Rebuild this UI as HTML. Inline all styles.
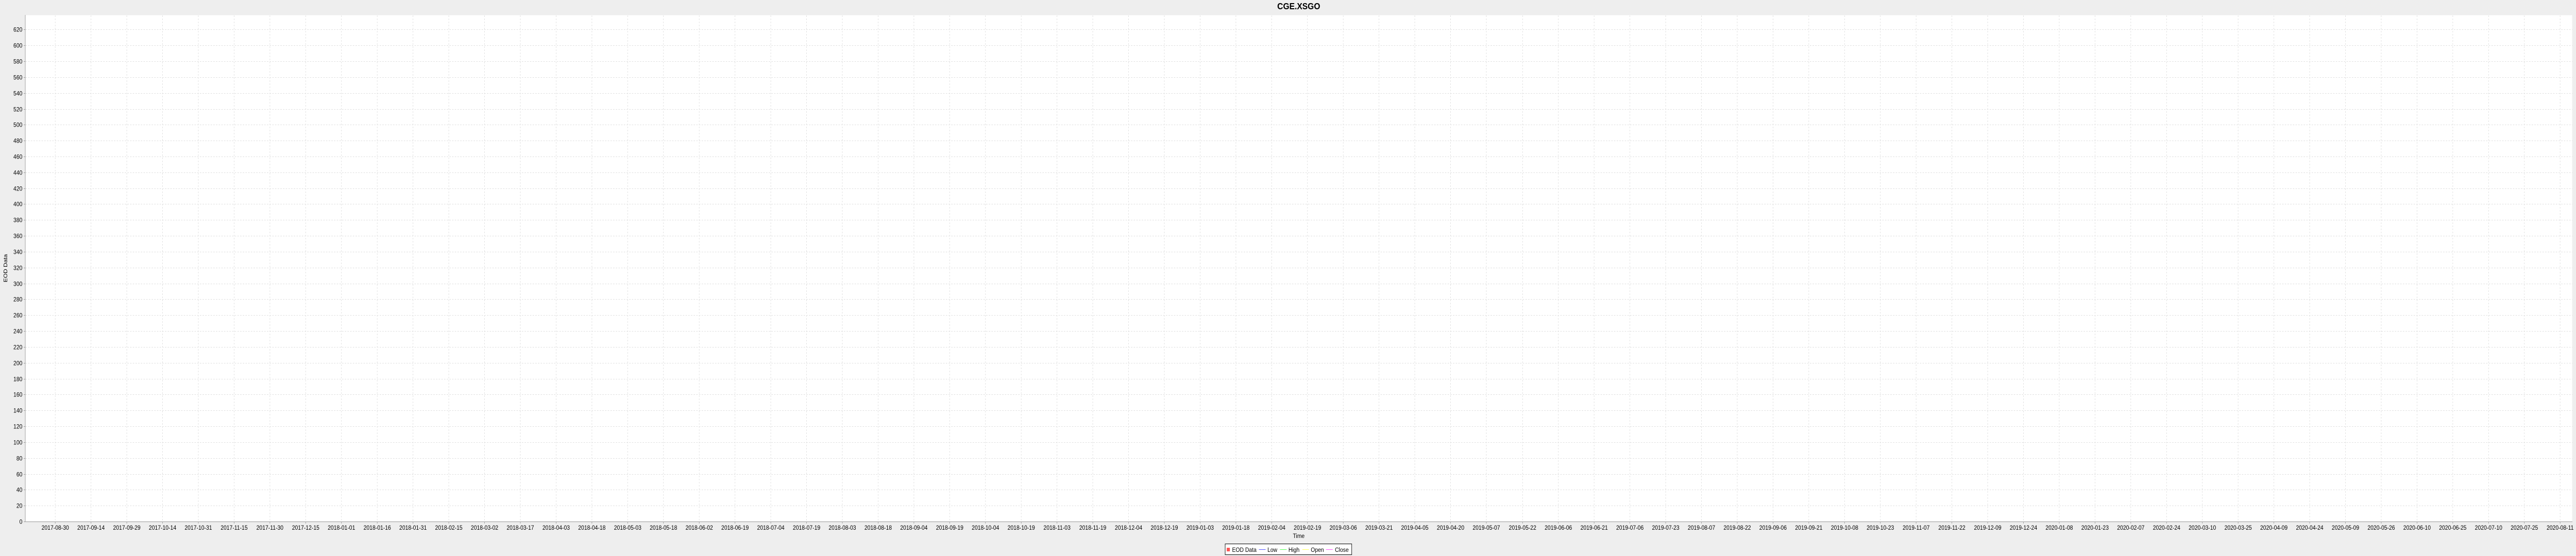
<!DOCTYPE html>
<html><head><meta charset="utf-8"><style>
html,body{margin:0;padding:0;background:#eeeeee;width:100%;height:100%;overflow:hidden;}
svg{display:block;font-family:"Liberation Sans",sans-serif;width:100vw;height:100vh;position:fixed;left:0;top:0;}
</style></head><body>
<svg id="chart" viewBox="0 0 5760 1080" preserveAspectRatio="none" xmlns="http://www.w3.org/2000/svg">
<rect x="0" y="0" width="5760" height="1080" fill="#eeeeee"/>
<text x="2904" y="18" text-anchor="middle" font-size="18" font-weight="bold" fill="#000">CGE.XSGO</text>
<rect x="56.5" y="29.5" width="5695" height="983.5" fill="#fff"/>
<g id="grid"></g>
<g id="yticks"></g>
<g id="xticks"></g>
<g id="series"></g>
<line x1="56.5" y1="29" x2="56.5" y2="1013.5" stroke="#999" stroke-width="1"/>
<line x1="56" y1="1013.5" x2="5752" y2="1013.5" stroke="#999" stroke-width="1"/>
<text transform="translate(16,521) rotate(-90)" text-anchor="middle" font-size="12" fill="#000">EOD Data</text>
<text x="2904" y="1045" text-anchor="middle" font-size="12" fill="#000">Time</text>
<g>
<rect x="2739.5" y="1056.5" width="283" height="21" fill="#fff" stroke="#000" stroke-width="1"/>
<rect x="2743" y="1064" width="7" height="7" fill="#ff5555"/>
<text x="2755" y="1072" font-size="12">EOD Data</text>
<line x1="2815" y1="1067.5" x2="2830" y2="1067.5" stroke="#5555ff"/>
<text x="2834" y="1072" font-size="12">Low</text>
<line x1="2862" y1="1067.5" x2="2877" y2="1067.5" stroke="#55ff55"/>
<text x="2881" y="1072" font-size="12">High</text>
<line x1="2912" y1="1067.5" x2="2927" y2="1067.5" stroke="#ffff55"/>
<text x="2931" y="1072" font-size="12">Open</text>
<line x1="2965" y1="1067.5" x2="2980" y2="1067.5" stroke="#ff55ff"/>
<text x="2985" y="1072" font-size="12">Close</text>
</g>
</svg>
<script>
var xTickLabels = ["2017-08-30","2017-09-14","2017-09-29","2017-10-14","2017-10-31","2017-11-15","2017-11-30","2017-12-15",
"2018-01-01","2018-01-16","2018-01-31","2018-02-15","2018-03-02","2018-03-17","2018-04-03","2018-04-18","2018-05-03",
"2018-05-18","2018-06-02","2018-06-19","2018-07-04","2018-07-19","2018-08-03","2018-08-18","2018-09-04","2018-09-19",
"2018-10-04","2018-10-19","2018-11-03","2018-11-19","2018-12-04","2018-12-19","2019-01-03","2019-01-18","2019-02-04",
"2019-02-19","2019-03-06","2019-03-21","2019-04-05","2019-04-20","2019-05-07","2019-05-22","2019-06-06","2019-06-21",
"2019-07-06","2019-07-23","2019-08-07","2019-08-22","2019-09-06","2019-09-21","2019-10-08","2019-10-23","2019-11-07",
"2019-11-22","2019-12-09","2019-12-24","2020-01-08","2020-01-23","2020-02-07","2020-02-24","2020-03-10","2020-03-25",
"2020-04-09","2020-04-24","2020-05-09","2020-05-26","2020-06-10","2020-06-25","2020-07-10","2020-07-25","2020-08-11"];
var yTickValues = [0,20,40,60,80,100,120,140,160,180,200,220,240,260,280,300,320,340,360,380,400,420,440,460,480,500,520,540,560,580,600,620];
var lowValues = [];
var highValues = [];
var openValues = [];
var closeValues = [];

var NS = "http://www.w3.org/2000/svg";
function yScale(v){ return 1013 - v * 1.5413; }
function xScale(i){ return 122.7 + i * 80.02; }
function mk(tag, attrs, parent){
  var e = document.createElementNS(NS, tag);
  for (var k in attrs) e.setAttribute(k, attrs[k]);
  parent.appendChild(e);
  return e;
}
var grid = document.getElementById('grid');
var yt = document.getElementById('yticks');
var xt = document.getElementById('xticks');
yTickValues.forEach(function(v){
  var y = Math.round(yScale(v)) + 0.5;
  if (v > 0) {
    var g = mk('line', {x1:57, x2:5752, y1:y, y2:y, stroke:'#dddddd', 'stroke-dasharray':'3,3'}, grid);
    
    
  }
  var tk = mk('line', {x1:53, x2:56, y1:y, y2:y, stroke:'#999'}, yt);
  
  
  var t = mk('text', {x:50, y:y+4, 'text-anchor':'end', 'font-size':'12', fill:'#000'}, yt);
  t.textContent = v;
  
  
});
xTickLabels.forEach(function(lab, i){
  var x = Math.round(xScale(i)) + 0.5;
  var g = mk('line', {x1:x, x2:x, y1:30, y2:1013, stroke:'#dddddd', 'stroke-dasharray':'3,3'}, grid);
  
  
  var tk = mk('line', {x1:x, x2:x, y1:1014, y2:1017, stroke:'#999'}, xt);
  
  
  var t = mk('text', {x:x, y:1029, 'text-anchor':'middle', 'font-size':'12', fill:'#000'}, xt);
  t.textContent = lab;
  
  
});
var ser = document.getElementById('series');
[[lowValues,'#5555ff','low-line'],[highValues,'#55ff55','high-line'],[openValues,'#ffff55','open-line'],[closeValues,'#ff55ff','close-line']].forEach(function(s){
  if (!s[0].length) return;
  var pts = s[0].map(function(v,i){ return xScale(i)+','+yScale(v); }).join(' ');
  var p = mk('polyline', {points:pts, fill:'none', stroke:s[1]}, ser);
  
  
});
</script>
</body></html>
